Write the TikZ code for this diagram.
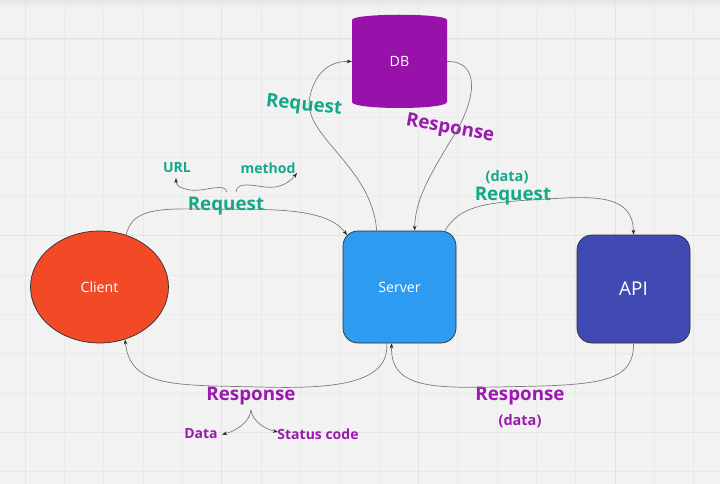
\documentclass[tikz,border=0pt]{standalone}
\usepackage{fontspec}
\setmainfont{Open Sans}
\usetikzlibrary{arrows.meta,shapes.geometric,calc}
\definecolor{bg}{HTML}{F2F2F2}
\definecolor{gridl}{HTML}{EAEAEA}
\definecolor{gridd}{HTML}{E3E3E3}
\definecolor{reqgreen}{HTML}{14A88A}
\definecolor{resppurple}{HTML}{9A1AAE}
\definecolor{clientfill}{HTML}{F24A27}
\definecolor{serverfill}{HTML}{2D9BF0}
\definecolor{apifill}{HTML}{414AB2}
\definecolor{dbfill}{HTML}{9811AB}
\definecolor{linkgray}{HTML}{7C7C7C}
\definecolor{edgedark}{HTML}{2E2E2E}
\tikzset{
  link/.style={draw=linkgray, line width=0.7pt, -{Stealth[length=5pt,width=3.6pt,color=black!85]}},
  boxtext/.style={text=white, font=\fontsize{14.2}{16}\selectfont},
  biglbl/.style={font=\fontsize{18.8}{21}\selectfont\bfseries, inner sep=0pt},
  smalllbl/.style={font=\fontsize{14}{16}\selectfont\bfseries, inner sep=0pt},
  greenlbl/.style={text=reqgreen},
  purplelbl/.style={text=resppurple},
}
\begin{document}
\begin{tikzpicture}[x=1pt,y=-1pt]
% background and grid
\fill[bg] (0,0) rectangle (720,484);
\useasboundingbox (0,0) rectangle (720,484);
\foreach \i in {0,...,18} {
  \pgfmathsetmacro{\gx}{-14.33+39.33*\i}
  \draw[gridl, line width=0.8pt] (\gx,0) -- (\gx,484);
}
\foreach \j in {0,...,12} {
  \pgfmathsetmacro{\gy}{-0.33+39.33*\j}
  \draw[gridl, line width=0.8pt] (0,\gy) -- (720,\gy);
}
\foreach \gx in {25,221.7,418.3,615} {
  \draw[gridd, line width=1pt] (\gx,0) -- (\gx,484);
}
\foreach \gy in {39,235.7,432.3} {
  \draw[gridd, line width=1pt] (0,\gy) -- (720,\gy);
}
\shade[top color=black!12, bottom color=bg, opacity=0.6] (0,0) rectangle (720,9);

% nodes
\node[ellipse, draw=edgedark, line width=0.7pt, fill=clientfill, minimum width=138pt, minimum height=112pt, boxtext] (client) at (99.5,287) {Client};
\node[rectangle, rounded corners=15pt, draw=edgedark, line width=0.7pt, fill=serverfill, minimum width=113pt, minimum height=112pt, boxtext] (server) at (399.5,287) {Server};
\node[rectangle, rounded corners=15pt, draw=edgedark, line width=0.7pt, fill=apifill, minimum width=113pt, minimum height=108pt, text=white, font=\fontsize{19}{21}\selectfont] (api) at (633.5,289) {API};
\fill[dbfill] (352,20) .. controls (352,13) and (447,13) .. (447,20) -- (447,102) .. controls (447,110) and (352,110) .. (352,102) -- cycle;
\node[rectangle, minimum width=95pt, minimum height=93pt, boxtext] (db) at (399.5,61.5) {DB};

% labels
\node[biglbl, greenlbl] (reqcs) at (226,206) {Request};
\node[smalllbl, greenlbl] (url) at (177,168) {URL};
\node[smalllbl, greenlbl] (method) at (268,168) {method};
\node[biglbl, greenlbl, rotate=-6] (reqdb) at (304,106) {Request};
\node[biglbl, purplelbl, rotate=-10] (respdb) at (450,129) {Response};
\node[smalllbl, greenlbl, font=\fontsize{14.5}{16}\selectfont\bfseries] (datareq) at (507,177) {(data)};
\node[biglbl, greenlbl] (reqapi) at (513,196) {Request};
\node[biglbl, purplelbl] (respcs) at (251,396) {Response};
\node[smalllbl, purplelbl] (data) at (201,434) {Data};
\node[smalllbl, purplelbl] (status) at (318,434) {Status code};
\node[biglbl, purplelbl] (respapi) at (520,396) {Response};
\node[smalllbl, purplelbl, font=\fontsize{14.5}{16}\selectfont\bfseries] (dataresp) at (520,421) {(data)};

% brace coordinates
\coordinate (reqbl) at (227,192);
\coordinate (reqbr) at (236,192);
\coordinate (urltip) at (176,178);
\coordinate (methtip) at (297,173);
\coordinate (respb) at (251,410);
\coordinate (datatip) at (222,434.5);
\coordinate (stattip) at (278,432);

% connectors
\draw[link] (client.63) .. controls (132,212) and (150,208) .. (200,209) .. controls (260,210) and (325,205) .. ($(server.north west)+(4.4,4.4)$);
\draw[link] ($(server.north west)+(34,0)$) .. controls (372,165) and (300,135) .. (310,96) .. controls (316,70) and (332,61) .. (db.west);
\draw[link] (db.east) .. controls (482,61) and (476,102) .. (451,140) .. controls (430,175) and (415,200) .. ($(server.north west)+(72,0)$);
\draw[link] ($(server.north east)+(-12,1)$) .. controls (458,208) and (480,203) .. (530,200) .. controls (585,197) and (633,190) .. (api.north);
\draw[link] (api.south) .. controls (634,380) and (605,385) .. (520,386.5) .. controls (440,388) and (390,392) .. ($(server.south west)+(49,0)$);
\draw[link] ($(server.south west)+(44,0)$) .. controls (390,385) and (330,389) .. (260,387) .. controls (175,385) and (130,388) .. (client.-64);

% braces
\draw[link] (reqbl) .. controls (225,182) and (205,192) .. (190,190) .. controls (180,188) and (176,186) .. (urltip);
\draw[link] (reqbr) .. controls (237,182) and (250,185) .. (265,187) .. controls (280,189) and (290,182) .. (methtip);
\draw[link] (respb) .. controls (250,422) and (236,431) .. (datatip);
\draw[link] (respb) .. controls (253,422) and (265,429) .. (stattip);
\end{tikzpicture}
\end{document}
